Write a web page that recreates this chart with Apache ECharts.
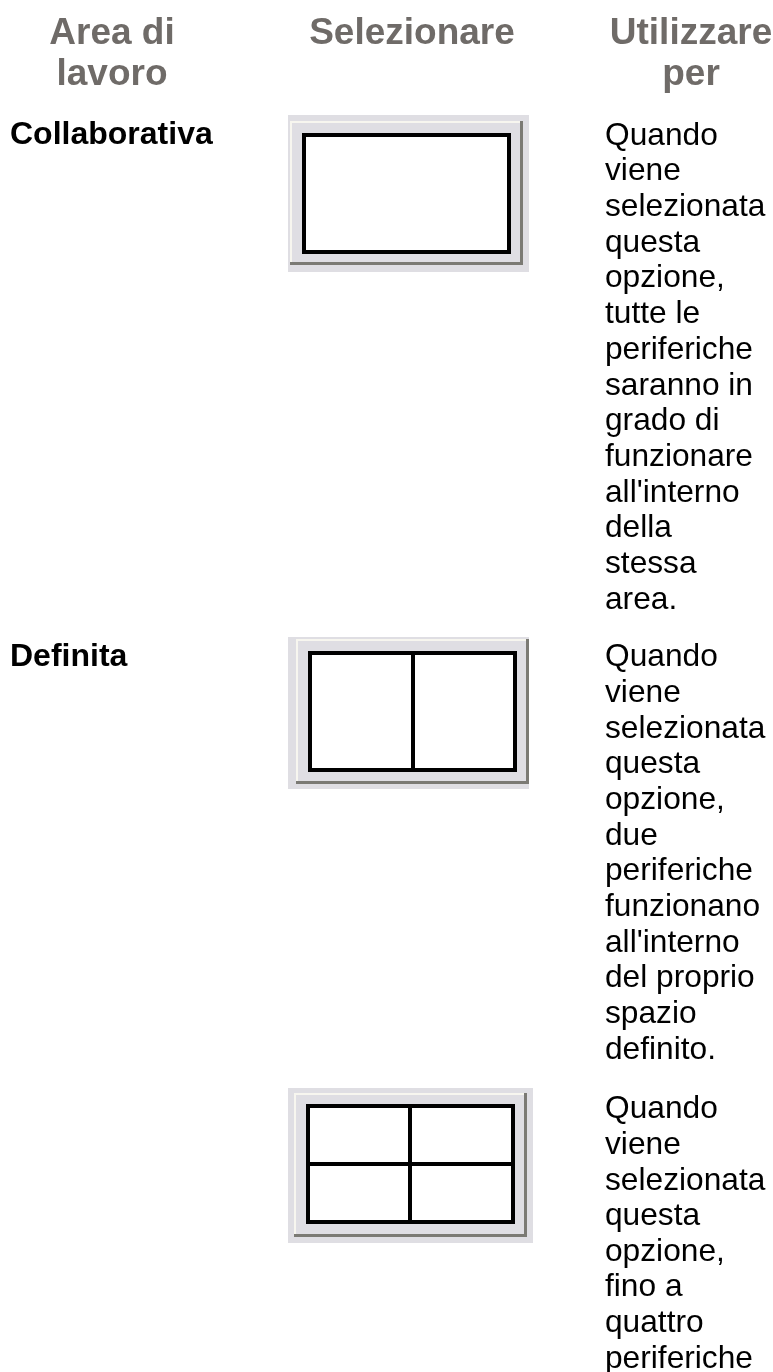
<!DOCTYPE html>
<html>
<head>
<meta charset="utf-8">
<style>
html,body{margin:0;padding:0;background:#fff;overflow:hidden}
#main{width:773px;height:1372px}
</style>
<script src="https://cdn.jsdelivr.net/npm/echarts@6/dist/echarts.min.js"></script>
</head>
<body>
<div id="main"></div>
<script>
var headerArea = ['Area di', 'lavoro'];
var headerSelect = ['Selezionare'];
var headerUse = ['Utilizzare', 'per'];
var rowNames = ['Collaborativa', 'Definita'];
var usoCollaborativa = ['Quando', 'viene', 'selezionata', 'questa', 'opzione,', 'tutte le', 'periferiche', 'saranno in', 'grado di', 'funzionare', "all'interno", 'della', 'stessa', 'area.'];
var usoDefinita = ['Quando', 'viene', 'selezionata', 'questa', 'opzione,', 'due', 'periferiche', 'funzionano', "all'interno", 'del proprio', 'spazio', 'definito.'];
var usoQuattro = ['Quando', 'viene', 'selezionata', 'questa', 'opzione,', 'fino a', 'quattro', 'periferiche'];

var FONT = '"Liberation Sans", Arial, sans-serif';
var els = [];

function rect(x, y, w, h, fill) {
	els.push({type: 'rect', silent: true, shape: {x: x, y: y, width: w, height: h}, style: {fill: fill}});
}

// y is the baseline of the first line, zrender places text from its top so shift by part of the size
function lines(list, x, y, step, size, weight, color, align) {
	list.forEach(function (t, i) {
		els.push({
			type: 'text',
			silent: true,
			x: x,
			y: y + i * step - 0.76 * size,
			style: {text: t, fill: color, font: weight + ' ' + size + 'px ' + FONT, textAlign: align}
		});
	});
}

// the little selector button: grey plate, bevel, black frame with dividers
function panel(o) {
	rect(o.x0, o.y0, o.x1 - o.x0, o.y1 - o.y0, '#dfdee3');
	rect(o.bx0, o.by0, o.bx1 - o.bx0, 2, '#f7f6ef');
	rect(o.bx0, o.by0, 2, o.by1 - o.by0, '#f7f6ef');
	rect(o.bx1 - 3, o.by0, 3, o.by1 - o.by0, '#7b7a74');
	rect(o.bx0, o.by1 - 3, o.bx1 - o.bx0, 3, '#7b7a74');
	rect(o.fx0, o.fy0, o.fx1 - o.fx0, o.fy1 - o.fy0, '#000');
	rect(o.fx0 + 4, o.fy0 + 4, o.fx1 - o.fx0 - 8, o.fy1 - o.fy0 - 8, '#fff');
	if (o.vx) rect(o.vx - 2, o.fy0, 4, o.fy1 - o.fy0, '#000');
	if (o.hy) rect(o.fx0, o.hy - 2, o.fx1 - o.fx0, 4, '#000');
}

panel({x0: 288, y0: 115, x1: 529, y1: 272, bx0: 290, by0: 121, bx1: 523, by1: 265, fx0: 302, fy0: 133, fx1: 511, fy1: 254});
panel({x0: 288, y0: 637, x1: 529, y1: 789, bx0: 296, by0: 639, bx1: 529, by1: 784, fx0: 308, fy0: 651, fx1: 517, fy1: 772, vx: 413});
panel({x0: 288, y0: 1088, x1: 533, y1: 1243, bx0: 294, by0: 1093, bx1: 527, by1: 1237, fx0: 306, fy0: 1104, fx1: 515, fy1: 1224, vx: 410, hy: 1164});

lines(headerArea, 112, 43, 41.5, 37, 'bold', '#6f6b68', 'center');
lines(headerSelect, 412, 43, 41.5, 37, 'bold', '#6f6b68', 'center');
lines(headerUse, 691, 43, 41.5, 37, 'bold', '#6f6b68', 'center');

lines([rowNames[0]], 10, 143.5, 0, 32, 'bold', '#000', 'left');
lines([rowNames[1]], 10, 665.5, 0, 32, 'bold', '#000', 'left');

lines(usoCollaborativa, 605, 144, 35.7, 31.7, 'normal', '#000', 'left');
lines(usoDefinita, 605, 665.5, 35.7, 31.7, 'normal', '#000', 'left');
lines(usoQuattro, 605, 1117.7, 35.6, 31.7, 'normal', '#000', 'left');

var myChart = echarts.init(document.getElementById('main'));
myChart.setOption({
	animation: false,
	backgroundColor: '#fff',
	graphic: {elements: els}
});
</script>
</body>
</html>
